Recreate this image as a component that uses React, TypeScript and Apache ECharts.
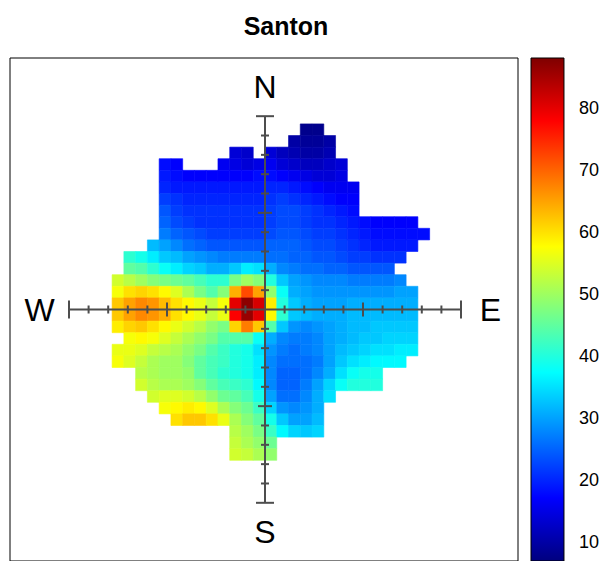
import React, { useEffect, useRef } from "react";
import * as echarts from "echarts";

const _ = null;

// Concentration surface, rows from north (top) to south, columns from west to east.
const heatRows: (number | null)[][] = [
  [_,_,_,_,_,_,_,_,_,_,_,_,_,_,_,_,_,8,8,_,_,_,_,_,_,_,_,_],
  [_,_,_,_,_,_,_,_,_,_,_,_,_,_,_,_,10,9,9,10,_,_,_,_,_,_,_,_],
  [_,_,_,_,_,_,_,_,_,_,_,14,13,_,14,12,11,10,10,11,_,_,_,_,_,_,_,_],
  [_,_,_,_,_,18,17,_,_,_,16,15,14,15,16,14,13,12,12,13,14,_,_,_,_,_,_,_],
  [_,_,_,_,_,19,18,17,17,17,17,17,17,18,18,17,16,15,14,14,15,_,_,_,_,_,_,_],
  [_,_,_,_,_,20,19,19,19,19,19,19,19,19,20,20,19,18,17,16,16,16,_,_,_,_,_,_],
  [_,_,_,_,_,22,21,20,20,20,20,20,20,20,21,22,21,20,19,18,17,17,_,_,_,_,_,_],
  [_,_,_,_,_,24,22,21,21,21,21,21,21,21,22,23,23,22,21,20,19,18,_,_,_,_,_,_],
  [_,_,_,_,_,25,23,22,21,21,21,21,21,21,22,23,23,22,21,21,20,19,18,17,17,17,17,_],
  [_,_,_,_,_,27,25,24,23,22,22,22,22,22,23,24,24,23,22,22,21,20,19,18,18,18,18,18],
  [_,_,_,_,32,30,28,26,25,24,24,24,24,24,25,25,25,24,23,23,22,21,20,19,19,19,19,_],
  [_,_,41,39,36,33,32,30,29,28,27,27,27,27,26,26,25,25,24,24,23,22,22,21,21,21,_,_],
  [_,_,45,44,41,38,36,34,33,31,31,33,36,35,31,28,27,26,26,25,25,24,24,24,24,_,_,_],
  [_,54,52,50,48,47,46,45,43,41,41,47,50,48,40,33,30,29,28,28,28,27,27,27,27,28,_,_],
  [_,57,60,61,60,58,55,51,47,44,48,64,72,65,49,38,31,30,29,29,29,29,29,29,29,30,30,_],
  [_,62,65,67,66,63,60,58,56,53,57,80,87,81,59,40,33,31,30,30,30,31,31,31,31,31,31,_],
  [_,62,65,67,66,64,60,58,56,53,56,78,86,80,58,41,33,32,31,31,31,32,32,32,32,32,32,_],
  [_,59,61,62,60,58,56,54,52,49,47,61,68,62,44,33,29,28,29,30,31,32,32,33,33,33,33,_],
  [_,_,57,58,57,55,53,51,49,47,44,44,44,38,31,28,27,27,28,30,31,32,33,33,34,34,34,_],
  [_,56,56,55,53,52,51,49,47,44,42,40,39,35,29,27,26,27,28,30,32,33,34,35,35,36,36,_],
  [_,57,55,53,51,50,50,48,45,43,42,40,39,36,28,26,26,26,27,30,33,35,36,37,37,37,_,_],
  [_,_,_,52,51,50,50,49,45,43,41,40,39,36,28,25,25,26,28,31,35,38,39,39,_,_,_,_],
  [_,_,_,54,52,51,51,50,48,45,43,42,41,37,28,25,25,27,30,34,38,40,40,40,_,_,_,_],
  [_,_,_,_,54,55,55,54,52,49,46,45,43,39,30,26,26,28,31,35,_,_,_,_,_,_,_,_],
  [_,_,_,_,_,57,58,59,58,55,51,48,46,42,34,29,28,29,31,_,_,_,_,_,_,_,_,_],
  [_,_,_,_,_,_,60,62,62,60,56,51,48,45,39,33,30,30,32,_,_,_,_,_,_,_,_,_],
  [_,_,_,_,_,_,_,_,_,_,_,52,50,47,42,37,34,33,34,_,_,_,_,_,_,_,_,_],
  [_,_,_,_,_,_,_,_,_,_,_,53,51,49,46,_,_,_,_,_,_,_,_,_,_,_,_,_],
  [_,_,_,_,_,_,_,_,_,_,_,54,53,51,49,_,_,_,_,_,_,_,_,_,_,_,_,_],
];

// Grid geometry of the surface, in axis units.
const CELL = 0.6;
const WEST_EDGE = -8.4;
const NORTH_EDGE = 9.6;

const valueMin = 7;
const valueMax = 88;
const colorbarTicks = [10, 20, 30, 40, 50, 60, 70, 80];
const axisTicks = [-10, -9, -8, -7, -6, -5, -4, -3, -2, -1, 1, 2, 3, 4, 5, 6, 7, 8, 9, 10];
const compassLabels = ["N", "E", "S", "W"];
const compassX = [0, 11.5, 0, -11.5];
const compassY = [11.5, 0, -11.5, 0];
const jetColors = ["#00007F", "#0000FF", "#007FFF", "#00FFFF", "#7FFF7F", "#FFFF00", "#FF7F00", "#FF0000", "#7F0000"];

const FONT = '"Liberation Sans", Arial, Helvetica, sans-serif';
const PX_PER_UNIT = 19.6;

export default function App() {
  const ref = useRef<HTMLDivElement>(null);

  useEffect(() => {
    if (!ref.current) return;
    const chart = echarts.init(ref.current, null, { renderer: "svg" });

    const heatData: number[][] = [];
    heatRows.forEach((row, j) =>
      row.forEach((v, i) => {
        if (v !== null && v !== undefined) {
          heatData.push([WEST_EDGE + CELL * (i + 0.5), NORTH_EDGE - CELL * (j + 0.5), v]);
        }
      })
    );

    const gxMin = -255 / PX_PER_UNIT;
    const gxMax = 253 / PX_PER_UNIT;
    const gyHalf = 255 / PX_PER_UNIT;
    const cbPx = 6.23;

    const option: any = {
      animation: false,
      graphic: [
        {
          type: "text",
          x: 286,
          y: 26,
          style: {
            text: "Santon",
            fontSize: 25,
            fontWeight: "bold",
            fontFamily: FONT,
            fill: "#000",
            align: "center",
            verticalAlign: "middle",
          },
        },
      ],
      visualMap: {
        type: "continuous",
        show: false,
        seriesIndex: 0,
        dimension: 2,
        min: valueMin,
        max: valueMax,
        inRange: { color: jetColors },
      },
      grid: [
        {
          left: 10,
          top: 58,
          width: 508,
          height: 510,
          show: true,
          borderColor: "#000",
          borderWidth: 1,
          backgroundColor: "transparent",
        },
        {
          left: 531,
          top: 58,
          width: 33,
          height: (valueMax - valueMin) * cbPx,
          show: false,
        },
      ],
      xAxis: [
        { type: "value", gridIndex: 0, min: gxMin, max: gxMax, show: false },
        { type: "value", gridIndex: 1, min: 0, max: 1, show: false },
      ],
      yAxis: [
        { type: "value", gridIndex: 0, min: -gyHalf, max: gyHalf, show: false },
        {
          type: "value",
          gridIndex: 1,
          min: valueMin,
          max: valueMax,
          position: "right",
          axisLine: { show: false },
          splitLine: { show: false },
          axisTick: {
            show: true,
            customValues: colorbarTicks,
            length: 6,
            lineStyle: { color: "#000", width: 1 },
          },
          axisLabel: {
            customValues: colorbarTicks,
            fontSize: 18,
            fontFamily: FONT,
            color: "#000",
            margin: 15,
          },
        },
      ],
      series: [
        {
          type: "custom",
          name: "surface",
          xAxisIndex: 0,
          yAxisIndex: 0,
          data: heatData,
          encode: { x: 0, y: 1 },
          renderItem: (params: any, api: any) => {
            const x = api.value(0);
            const y = api.value(1);
            const p0 = api.coord([x - CELL / 2, y + CELL / 2]);
            const p1 = api.coord([x + CELL / 2, y - CELL / 2]);
            const color = api.visual("color");
            return {
              type: "rect",
              shape: { x: p0[0], y: p0[1], width: p1[0] - p0[0], height: p1[1] - p0[1] },
              style: { fill: color, stroke: color, lineWidth: 0.6 },
            };
          },
        },
        {
          type: "custom",
          name: "compassAxes",
          xAxisIndex: 0,
          yAxisIndex: 0,
          data: axisTicks.map((t) => [t]),
          encode: { x: 0 },
          renderItem: (params: any, api: any) => {
            const t = api.value(0);
            const children: any[] = [];
            const stroke = "#4d4d4d";
            const half = Math.abs(t) === 10 ? 9 : Math.abs(t) === 5 ? 7 : 4;
            if (params.dataIndex === 0) {
              const a = api.coord([-10, 0]);
              const b = api.coord([10, 0]);
              const c = api.coord([0, -10]);
              const d = api.coord([0, 10]);
              children.push({ type: "line", shape: { x1: a[0], y1: a[1], x2: b[0], y2: b[1] }, style: { stroke, lineWidth: 2 } });
              children.push({ type: "line", shape: { x1: c[0], y1: c[1], x2: d[0], y2: d[1] }, style: { stroke, lineWidth: 2 } });
            }
            const h = api.coord([t, 0]);
            const v = api.coord([0, t]);
            children.push({ type: "line", shape: { x1: h[0], y1: h[1] - half, x2: h[0], y2: h[1] + half }, style: { stroke, lineWidth: 2 } });
            children.push({ type: "line", shape: { x1: v[0] - half, y1: v[1], x2: v[0] + half, y2: v[1] }, style: { stroke, lineWidth: 2 } });
            return { type: "group", children };
          },
        },
        {
          type: "custom",
          name: "compassLabels",
          xAxisIndex: 0,
          yAxisIndex: 0,
          data: compassLabels.map((l, k) => [compassX[k], compassY[k]]),
          encode: { x: 0, y: 1 },
          renderItem: (params: any, api: any) => {
            const p = api.coord([api.value(0), api.value(1)]);
            return {
              type: "text",
              x: p[0],
              y: p[1],
              style: {
                text: compassLabels[params.dataIndex],
                fontSize: 32,
                fontFamily: FONT,
                fill: "#000",
                align: "center",
                verticalAlign: "middle",
              },
            };
          },
        },
        {
          type: "custom",
          name: "colorbar",
          xAxisIndex: 1,
          yAxisIndex: 1,
          data: [[0, valueMin, 1, valueMax]],
          encode: { x: [0, 2], y: [1, 3] },
          renderItem: (params: any, api: any) => {
            const p0 = api.coord([api.value(0), api.value(3)]);
            const p1 = api.coord([api.value(2), api.value(1)]);
            return {
              type: "rect",
              shape: { x: p0[0], y: p0[1], width: p1[0] - p0[0], height: p1[1] - p0[1] },
              style: {
                fill: new echarts.graphic.LinearGradient(
                  0, 1, 0, 0,
                  jetColors.map((c, k) => ({ offset: k / (jetColors.length - 1), color: c }))
                ),
                stroke: "#000",
                lineWidth: 1,
              },
            };
          },
        },
      ],
    };

    chart.setOption(option);
    return () => chart.dispose();
  }, []);

  return (
    <div
      ref={ref}
      style={{ position: "fixed", left: 0, top: 0, width: 602, height: 561, background: "#fff" }}
    />
  );
}
